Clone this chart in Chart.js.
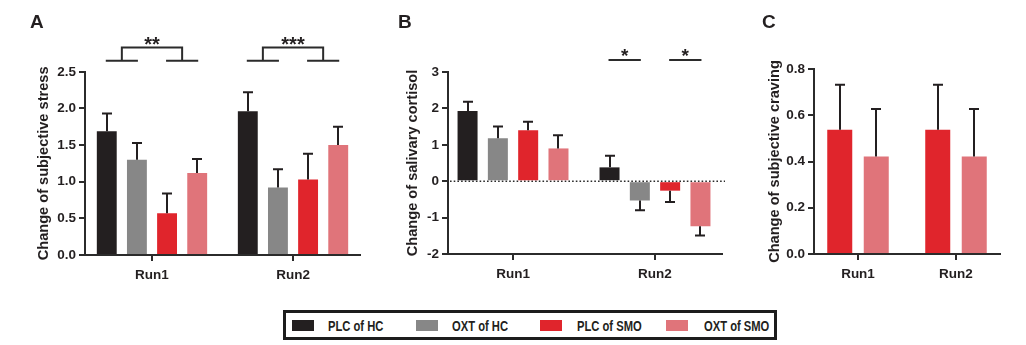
<!DOCTYPE html>
<html><head><meta charset="utf-8">
<script src="https://cdn.jsdelivr.net/npm/chart.js@4.4.0/dist/chart.umd.min.js"></script>
<style>
html,body{margin:0;padding:0;background:#fff;width:1026px;height:345px;overflow:hidden;position:relative;font-family:'Liberation Sans',Arial,sans-serif}
canvas{position:absolute;top:0}
#legendBox{position:absolute;left:283px;top:310px;width:494px;height:30px;box-sizing:border-box;border:3px solid #1d1d1d;background:#fff}
.sw{position:absolute;width:22px;height:11px;top:320px}
.lt{position:absolute;top:317.7px;font-family:'Liberation Sans',Arial,sans-serif;font-weight:bold;font-size:14px;color:#231f20;line-height:16px;white-space:nowrap;transform:scaleX(0.8);transform-origin:0 50%}
</style></head><body>
<canvas id="cA" width="370" height="290" style="left:0px"></canvas>
<canvas id="cB" width="340" height="290" style="left:390px"></canvas>
<canvas id="cC" width="286" height="290" style="left:740px"></canvas>
<div id="legendBox"></div>
<script>
// ---------- data ----------
const categories = ['Run1', 'Run2'];
const seriesNames = ['PLC of HC', 'OXT of HC', 'PLC of SMO', 'OXT of SMO'];
const seriesColors = ['#231f20', '#878787', '#e0252c', '#e0747a'];

// Panel A: change of subjective stress (mean, SEM)
const stressPlcHC = [1.69, 1.96];
const stressOxtHC = [1.30, 0.92];
const stressPlcSMO = [0.57, 1.03];
const stressOxtSMO = [1.12, 1.50];
const stressErrPlcHC = [0.24, 0.26];
const stressErrOxtHC = [0.23, 0.25];
const stressErrPlcSMO = [0.27, 0.35];
const stressErrOxtSMO = [0.19, 0.25];
const stressTicks = [0, 0.5, 1.0, 1.5, 2.0, 2.5];
const stressSig = [{category: 0, label: '**'}, {category: 1, label: '***'}];

// Panel B: change of salivary cortisol
const cortisolPlcHC = [1.93, 0.38];
const cortisolOxtHC = [1.18, -0.53];
const cortisolPlcSMO = [1.40, -0.26];
const cortisolOxtSMO = [0.90, -1.24];
const cortisolErrPlcHC = [0.25, 0.32];
const cortisolErrOxtHC = [0.32, 0.27];
const cortisolErrPlcSMO = [0.23, 0.31];
const cortisolErrOxtSMO = [0.36, 0.25];
const cortisolTicks = [-2, -1, 0, 1, 2, 3];
const cortisolSig = [{category: 1, pair: [0, 1], label: '*'}, {category: 1, pair: [2, 3], label: '*'}];

// Panel C: change of subjective craving (smokers only)
const cravingPlcSMO = [0.537, 0.537];
const cravingOxtSMO = [0.422, 0.422];
const cravingErrPlcSMO = [0.195, 0.195];
const cravingErrOxtSMO = [0.205, 0.205];
const cravingTicks = [0, 0.2, 0.4, 0.6, 0.8];

// ---------- styling ----------
const axisColor = '#2b2b2b';
const textColor = '#231f20';
const fontFamily = "'Liberation Sans', Arial, sans-serif";
Chart.defaults.font.family = fontFamily;
Chart.defaults.color = textColor;

const errorBarsPlugin = {
  id: 'errorBars',
  afterDatasetsDraw(chart) {
    const ctx = chart.ctx, yS = chart.scales.y;
    ctx.save();
    ctx.strokeStyle = textColor;
    ctx.lineWidth = 2;
    chart.data.datasets.forEach((ds, di) => {
      const meta = chart.getDatasetMeta(di);
      meta.data.forEach((bar, i) => {
        const v = ds.data[i].y, e = ds.errors[i];
        const end = v >= 0 ? v + e : v - e;
        const y0 = yS.getPixelForValue(v), y1 = yS.getPixelForValue(end);
        const x = Math.round(bar.x);
        ctx.beginPath();
        ctx.moveTo(x, y0); ctx.lineTo(x, y1);
        ctx.moveTo(x - 5, y1); ctx.lineTo(x + 5, y1);
        ctx.stroke();
      });
    });
    ctx.restore();
  }
};

const zeroLinePlugin = {
  id: 'zeroLine',
  beforeDatasetsDraw(chart, args, opts) {
    if (!opts.show) return;
    const ctx = chart.ctx, y = chart.scales.y.getPixelForValue(0), a = chart.chartArea;
    ctx.save();
    ctx.strokeStyle = axisColor; ctx.lineWidth = 1.6; ctx.setLineDash([1.6, 2.1]);
    ctx.beginPath(); ctx.moveTo(a.left + 2, y); ctx.lineTo(a.right + 3, y); ctx.stroke();
    ctx.restore();
  }
};

function drawStar(ctx, text, cx, cy) {
  const m = ctx.measureText(text);
  const asc = m.actualBoundingBoxAscent, desc = m.actualBoundingBoxDescent;
  ctx.fillText(text, cx, cy + (asc - desc) / 2);
}

const bracketPlugin = {
  id: 'brackets',
  afterDraw(chart, args, opts) {
    if (!opts.items) return;
    const ctx = chart.ctx, yS = chart.scales.y;
    ctx.save();
    ctx.strokeStyle = axisColor; ctx.fillStyle = textColor; ctx.lineWidth = 2;
    ctx.font = 'bold ' + opts.fontSize + 'px ' + fontFamily;
    ctx.textAlign = 'center'; ctx.textBaseline = 'alphabetic';
    const barX = (d, c) => chart.getDatasetMeta(d).data[c].x;
    const yLow = yS.getPixelForValue(opts.low);
    opts.items.forEach(it => {
      if (opts.kind === 'double') {
        const yTop = yS.getPixelForValue(opts.top);
        const xs = [0, 1, 2, 3].map(d => barX(d, it.category));
        ctx.beginPath();
        ctx.moveTo(xs[0] - 1, yLow); ctx.lineTo(xs[1] + 1, yLow);
        ctx.moveTo(xs[2] - 1, yLow); ctx.lineTo(xs[3] + 1, yLow);
        const m1 = (xs[0] + xs[1]) / 2, m2 = (xs[2] + xs[3]) / 2;
        ctx.moveTo(m1, yLow); ctx.lineTo(m1, yTop); ctx.lineTo(m2, yTop); ctx.lineTo(m2, yLow);
        ctx.stroke();
        drawStar(ctx, it.label, (m1 + m2) / 2, yTop - opts.gap);
      } else {
        const x0 = barX(it.pair[0], it.category), x1 = barX(it.pair[1], it.category);
        ctx.beginPath(); ctx.moveTo(x0 - 1, yLow); ctx.lineTo(x1 + 1, yLow); ctx.stroke();
        drawStar(ctx, it.label, (x0 + x1) / 2, yLow - opts.gap);
      }
    });
    ctx.restore();
  }
};

function buildChart(id, o) {
  return new Chart(document.getElementById(id), {
    type: 'bar',
    data: {
      datasets: o.series.map(s => ({
        label: s.name,
        data: s.values.map((v, i) => ({x: i, y: v})),
        errors: s.errors,
        backgroundColor: s.color,
        borderWidth: 0,
        categoryPercentage: o.catPct,
        barPercentage: o.barPct
      }))
    },
    options: {
      responsive: false, animation: false, devicePixelRatio: 1,
      layout: {padding: o.padding},
      plugins: {
        legend: {display: false},
        tooltip: {enabled: false},
        title: {display: true, text: o.letter, align: 'start', color: textColor,
                font: {size: 19, weight: 'bold'}, padding: {top: 11, bottom: o.titleBottom}},
        brackets: o.brackets || {},
        zeroLine: {show: !!o.zeroLine}
      },
      scales: {
        x: {
          type: 'linear', min: o.xMin, max: o.xMax, offset: false,
          afterBuildTicks: s => { s.ticks = categories.map((c, i) => ({value: i})); },
          afterFit: s => { s.height = 30; },
          ticks: {callback: v => categories[v], font: {size: 13.5, weight: 'bold'}, color: textColor,
                  padding: 6, autoSkip: false, maxRotation: 0},
          grid: {display: true, drawOnChartArea: false, drawTicks: true, tickLength: 6,
                 color: axisColor, lineWidth: 2, offset: false},
          border: {display: true, color: axisColor, width: 2}
        },
        y: {
          type: 'linear', min: o.yTicks[0], max: o.yTicks[o.yTicks.length - 1],
          afterBuildTicks: s => { s.ticks = o.yTicks.map(v => ({value: v})); },
          afterFit: s => { s.width = o.yWidth; },
          ticks: {callback: v => v.toFixed(o.decimals), font: {size: 13.5, weight: 'bold'}, color: textColor, padding: 3},
          grid: {display: true, drawOnChartArea: false, drawTicks: true, tickLength: 6,
                 color: axisColor, lineWidth: 2},
          border: {display: true, color: axisColor, width: 2},
          title: {display: true, text: o.yTitle, color: textColor, font: {size: 14.6, weight: 'bold'},
                  padding: {top: o.yTitlePad, bottom: 0}}
        }
      }
    },
    plugins: [zeroLinePlugin, errorBarsPlugin, bracketPlugin]
  });
}

buildChart('cA', {
  letter: 'A', yTitle: 'Change of subjective stress', yTicks: stressTicks, decimals: 1,
  series: [
    {name: seriesNames[0], color: seriesColors[0], values: stressPlcHC, errors: stressErrPlcHC},
    {name: seriesNames[1], color: seriesColors[1], values: stressOxtHC, errors: stressErrOxtHC},
    {name: seriesNames[2], color: seriesColors[2], values: stressPlcSMO, errors: stressErrPlcSMO},
    {name: seriesNames[3], color: seriesColors[3], values: stressOxtSMO, errors: stressErrOxtSMO}
  ],
  catPct: 0.855, barPct: 0.66, xMin: -0.475, xMax: 1.475,
  padding: {left: 30, right: 10, top: 0, bottom: 5}, yWidth: 55, yTitlePad: 5.24, titleBottom: 38,
  brackets: {kind: 'double', items: stressSig, low: 2.65, top: 2.83, gap: 7, fontSize: 20}
});

buildChart('cB', {
  letter: 'B', yTitle: 'Change of salivary cortisol', yTicks: cortisolTicks, decimals: 0,
  series: [
    {name: seriesNames[0], color: seriesColors[0], values: cortisolPlcHC, errors: cortisolErrPlcHC},
    {name: seriesNames[1], color: seriesColors[1], values: cortisolOxtHC, errors: cortisolErrOxtHC},
    {name: seriesNames[2], color: seriesColors[2], values: cortisolPlcSMO, errors: cortisolErrPlcSMO},
    {name: seriesNames[3], color: seriesColors[3], values: cortisolOxtSMO, errors: cortisolErrOxtSMO}
  ],
  catPct: 0.854, barPct: 0.66, xMin: -0.458, xMax: 1.472,
  padding: {left: 8, right: 8, top: 0, bottom: 6}, yWidth: 50, yTitlePad: 5.74, titleBottom: 38.2,
  zeroLine: true,
  brackets: {kind: 'single', items: cortisolSig, low: 3.33, gap: 7.7, fontSize: 19}
});

buildChart('cC', {
  letter: 'C', yTitle: 'Change of subjective craving', yTicks: cravingTicks, decimals: 1,
  series: [
    {name: seriesNames[2], color: seriesColors[2], values: cravingPlcSMO, errors: cravingErrPlcSMO},
    {name: seriesNames[3], color: seriesColors[3], values: cravingOxtSMO, errors: cravingErrOxtSMO}
  ],
  catPct: 0.745, barPct: 0.685, xMin: -0.449, xMax: 1.449,
  padding: {left: 22, right: 26, top: 0, bottom: 6}, yWidth: 52, yTitlePad: 4.24, titleBottom: 35.2
});

// ---------- legend ----------
const legendSwatchX = [292, 416, 540, 666];
const legendTextX = [328, 452, 577, 704];
seriesNames.forEach((name, i) => {
  const sw = document.createElement('div');
  sw.className = 'sw'; sw.style.left = legendSwatchX[i] + 'px'; sw.style.background = seriesColors[i];
  document.body.appendChild(sw);
  const t = document.createElement('div');
  t.className = 'lt'; t.style.left = legendTextX[i] + 'px'; t.textContent = name;
  document.body.appendChild(t);
});
</script>
</body></html>
